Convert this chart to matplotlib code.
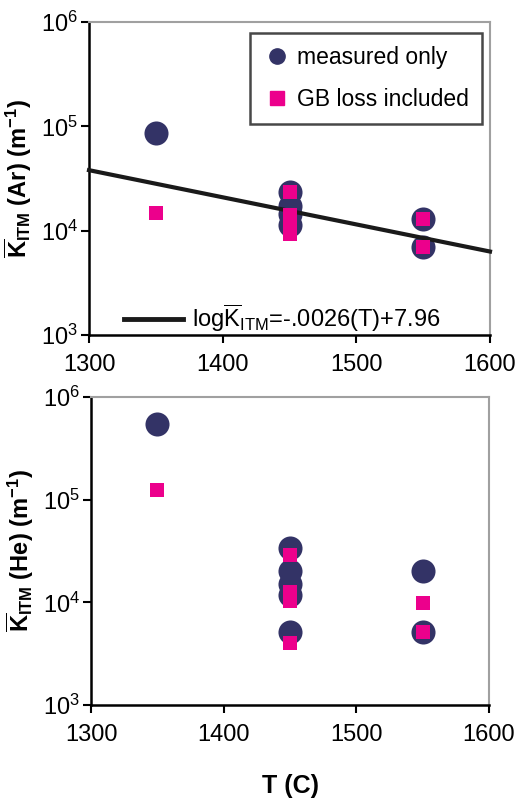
import numpy as np
import matplotlib
matplotlib.use("Agg")
import matplotlib.pyplot as plt
from matplotlib.lines import Line2D

plt.rcParams['font.family'] = ['Liberation Sans', 'DejaVu Sans']
plt.rcParams['mathtext.fontset'] = 'custom'
plt.rcParams['mathtext.rm'] = 'Liberation Sans'
plt.rcParams['mathtext.it'] = 'Liberation Sans:italic'
plt.rcParams['mathtext.bf'] = 'Liberation Sans:bold'

# Ar panel
ar_meas_T = [1350, 1450, 1450, 1450, 1450, 1550, 1550]
ar_meas_K = [8.6e4, 2.37e4, 1.74e4, 1.43e4, 1.14e4, 1.28e4, 6.9e3]
ar_gb_T = [1350, 1450, 1450, 1450, 1450, 1550, 1550]
ar_gb_K = [1.47e4, 2.37e4, 1.4e4, 1.2e4, 9.3e3, 1.28e4, 6.9e3]

# He panel
he_meas_T = [1350, 1450, 1450, 1450, 1450, 1450, 1550, 1550]
he_meas_K = [5.4e5, 3.4e4, 2.0e4, 1.5e4, 1.18e4, 5.2e3, 2.0e4, 5.2e3]
he_gb_T = [1350, 1450, 1450, 1450, 1450, 1550, 1550]
he_gb_K = [1.25e5, 2.9e4, 1.25e4, 1.02e4, 4.0e3, 9.8e3, 5.2e3]

# fit: log K = slope*T + intercept
fit_slope = -0.0026
fit_intercept = 7.96
fit_T = np.array([1300, 1600])

navy = '#333366'
pink = '#EC008C'
gray = '#A0A0A0'

fig = plt.figure(figsize=(5.16, 7.98), dpi=100)
ax1 = fig.add_axes([0.1725, 0.5802, 0.7771, 0.3922])
ax2 = fig.add_axes([0.1764, 0.1165, 0.7713, 0.3860])


def style_axes(ax):
    ax.set_yscale('log')
    ax.set_xlim(1300, 1600)
    ax.set_ylim(1e3, 1e6)
    ax.set_xticks([1300, 1400, 1500, 1600])
    ax.set_yticks([1e3, 1e4, 1e5, 1e6])
    ax.yaxis.set_minor_locator(matplotlib.ticker.NullLocator())
    ax.tick_params(axis='both', labelsize=17, direction='out', length=6,
                   width=1.5, color='black')
    ax.tick_params(axis='x', pad=8)
    ax.tick_params(axis='y', pad=2)
    for s in ['left', 'bottom']:
        ax.spines[s].set_color('black')
        ax.spines[s].set_linewidth(1.8)
    for s in ['top', 'right']:
        ax.spines[s].set_color(gray)
        ax.spines[s].set_linewidth(1.5)


style_axes(ax1)
ax1.scatter(ar_meas_T, ar_meas_K, s=300, color=navy, zorder=3, linewidths=0)
ax1.plot(fit_T, 10 ** (fit_slope * fit_T + fit_intercept), color='#1a1a1a',
         lw=3, zorder=4, clip_on=False)
ax1.scatter(ar_gb_T, ar_gb_K, s=110, marker='s', color=pink, zorder=5, linewidths=0)
ax1.set_ylabel(r'$\overline{\mathbf{K}}_{\mathbf{ITM}}$ (Ar) (m$^{\mathbf{-1}}$)',
               fontsize=17, fontweight='bold', labelpad=5)

handles = [Line2D([], [], marker='o', ls='', color=navy, markersize=11),
           Line2D([], [], marker='s', ls='', color=pink, markersize=10)]
leg = ax1.legend(handles, ['measured only', 'GB loss included'], loc='upper right',
                 bbox_to_anchor=(0.934, 0.9586), bbox_transform=fig.transFigure,
                 fontsize=16.5, frameon=True, fancybox=False, edgecolor='#1a1a1a',
                 labelspacing=0.85, handletextpad=0.3, handlelength=1.2,
                 borderpad=0.55, borderaxespad=0)
leg.get_frame().set_linewidth(1.8)
ax1.add_artist(leg)

fit_handle = Line2D([], [], color='#1a1a1a', lw=3.5)
leg2 = ax1.legend([fit_handle],
                  [r'log$\overline{\mathrm{K}}_{\mathrm{ITM}}$=-.0026(T)+7.96'],
                  loc='lower left', bbox_to_anchor=(0.035, -0.065), frameon=False,
                  fontsize=17, handlelength=2.5, handletextpad=0.35)

style_axes(ax2)
ax2.scatter(he_meas_T, he_meas_K, s=300, color=navy, zorder=3, linewidths=0)
ax2.scatter(he_gb_T, he_gb_K, s=110, marker='s', color=pink, zorder=5, linewidths=0)
ax2.set_ylabel(r'$\overline{\mathbf{K}}_{\mathbf{ITM}}$ (He) (m$^{\mathbf{-1}}$)',
               fontsize=17, fontweight='bold', labelpad=5)
ax2.set_xlabel('T (C)', fontsize=18, fontweight='bold', labelpad=20)

fig.savefig('out.png', dpi=100)
